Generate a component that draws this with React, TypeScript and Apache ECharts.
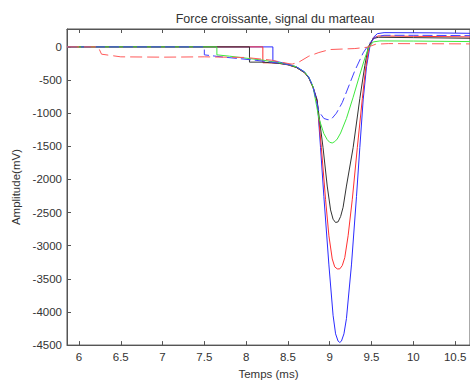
import React, { useEffect, useRef } from "react";
import * as echarts from "echarts";

const titleText = "Force croissante, signal du marteau";
const xName = "Temps (ms)";
const yName = "Amplitude(mV)";
const xTicks = [6, 6.5, 7, 7.5, 8, 8.5, 9, 9.5, 10, 10.5];
const yTicks = [-4500, -4000, -3500, -3000, -2500, -2000, -1500, -1000, -500, 0];

const blueSolid: [number, number][] = [
  [5.857, 0], [8.32, 0], [8.32, -210], [8.4, -230], [8.5, -260], [8.6, -300], [8.7, -380],
  [8.75, -460], [8.8, -600], [8.85, -800], [8.89, -1520], [8.93, -2260], [8.99, -3290],
  [9.04, -4050], [9.07, -4330], [9.1, -4440], [9.12, -4460], [9.14, -4440], [9.17, -4330],
  [9.2, -4100], [9.26, -3290], [9.32, -2260], [9.36, -1520], [9.4, -800], [9.44, -300],
  [9.48, 0], [9.52, 140], [9.57, 200], [9.65, 215], [10.2, 212], [10.68, 205],
];

const redSolid: [number, number][] = [
  [5.857, 0], [8.2, 0], [8.2, -240], [8.3, -240], [8.4, -250], [8.5, -270], [8.6, -310],
  [8.7, -390], [8.75, -470], [8.8, -610], [8.85, -820], [8.9, -1520], [8.95, -2300],
  [8.99, -2850], [9.03, -3200], [9.06, -3320], [9.09, -3350], [9.12, -3350], [9.15, -3300],
  [9.18, -3180], [9.22, -2850], [9.27, -2300], [9.33, -1520], [9.39, -780], [9.43, -320],
  [9.47, 0], [9.52, 130], [9.58, 165], [10.0, 160], [10.68, 150],
];

const blackSolid: [number, number][] = [
  [5.857, 0], [8.04, 0], [8.04, -230], [8.2, -230], [8.3, -240], [8.4, -250], [8.5, -270],
  [8.6, -310], [8.7, -390], [8.75, -470], [8.8, -610], [8.85, -820], [8.92, -1520],
  [8.97, -2100], [9.01, -2460], [9.04, -2600], [9.07, -2650], [9.1, -2640], [9.13, -2560],
  [9.16, -2420], [9.2, -2100], [9.28, -1520], [9.36, -780], [9.42, -280], [9.46, 0],
  [9.52, 125], [9.58, 145], [10.0, 140], [10.68, 130],
];

const greenLine: [number, number][] = [
  [5.857, 0], [7.65, 0], [7.65, -120], [7.8, -140], [8.0, -170], [8.2, -200], [8.4, -240],
  [8.5, -265], [8.6, -300], [8.7, -380], [8.75, -460], [8.8, -600], [8.87, -1075],
  [8.93, -1310], [8.97, -1400], [9.0, -1440], [9.03, -1450], [9.06, -1430], [9.09, -1390],
  [9.13, -1300], [9.2, -1080], [9.28, -760], [9.35, -460], [9.42, -170], [9.47, 0],
  [9.52, 75], [9.6, 90], [10.0, 88], [10.68, 80],
];

const blueDashed: [number, number][] = [
  [5.857, 0], [7.5, 0], [7.5, -120], [7.7, -150], [7.9, -175], [8.1, -200], [8.3, -230],
  [8.5, -265], [8.6, -300], [8.7, -380], [8.75, -460], [8.8, -600], [8.87, -975],
  [8.93, -1080], [8.98, -1100], [9.02, -1090], [9.08, -1000], [9.15, -840], [9.2, -680],
  [9.3, -360], [9.4, -90], [9.48, 60], [9.55, 150], [9.65, 175], [10.0, 175], [10.68, 170],
];

const redDashed: [number, number][] = [
  [5.857, 0], [6.23, 0], [6.27, -110], [6.5, -150], [7.0, -155], [7.5, -150], [8.0, -160],
  [8.3, -200], [8.5, -250], [8.55, -260], [8.63, -230], [8.75, -140], [8.87, -85],
  [9.0, -40], [9.3, -25], [9.45, -5], [9.55, 40], [9.7, 50], [10.68, 45],
];

const FONT = "Liberation Sans";

export default function App() {
  const ref = useRef<HTMLDivElement>(null);
  useEffect(() => {
    if (!ref.current) return;
    const chart = echarts.init(ref.current, undefined, { renderer: "svg" });
    const axisLineStyle = { color: "#555", width: 1 };
    const mk = (name: string, data: [number, number][], color: string, type: any, width = 1) => ({
      name,
      type: "line",
      data,
      showSymbol: false,
      symbol: "none",
      lineStyle: { color, width, type },
      itemStyle: { color },
      z: 2,
    });
    chart.setOption({
      animation: false,
      backgroundColor: "#fff",
      title: {
        text: titleText,
        left: 270,
        top: 7,
        textAlign: "center",
        textStyle: { fontFamily: FONT, fontSize: 12.5, fontWeight: "normal", color: "#333" },
      },
      grid: { left: 67, top: 29, width: 405, height: 323, show: true, borderColor: "#555", borderWidth: 1 },
      xAxis: [
        {
          type: "value",
          min: 5.857,
          max: 10.678,
          name: xName,
          nameLocation: "middle",
          nameGap: 20,
          nameTextStyle: { fontFamily: FONT, fontSize: 11.5, color: "#333" },
          axisLine: { show: true, onZero: false, lineStyle: axisLineStyle },
          axisTick: { show: true, inside: true, length: 4, customValues: xTicks, lineStyle: axisLineStyle },
          axisLabel: { customValues: xTicks, fontFamily: FONT, fontSize: 11.5, color: "#333", margin: 6, formatter: (v: number) => String(v) },
          splitLine: { show: false },
        },
        {
          type: "value",
          position: "top",
          min: 5.857,
          max: 10.678,
          axisLine: { show: true, onZero: false, lineStyle: axisLineStyle },
          axisTick: { show: true, inside: true, length: 4, customValues: xTicks, lineStyle: axisLineStyle },
          axisLabel: { show: false },
          splitLine: { show: false },
        },
      ],
      yAxis: {
        type: "value",
        min: -4500,
        max: 270,
        name: yName,
        nameLocation: "middle",
        nameGap: 42,
        nameTextStyle: { fontFamily: FONT, fontSize: 11.5, color: "#333" },
        axisLine: { show: true, onZero: false, lineStyle: axisLineStyle },
        axisTick: { show: true, inside: true, length: 4, customValues: yTicks, lineStyle: axisLineStyle },
        axisLabel: { customValues: yTicks, fontFamily: FONT, fontSize: 11.5, color: "#333", margin: 5, formatter: (v: number) => String(v) },
        splitLine: { show: false },
      },
      series: [
        mk("blueSolid", blueSolid, "#2b2bff", "solid"),
        mk("redSolid", redSolid, "#ff3030", "solid"),
        mk("blackSolid", blackSolid, "#333333", "solid"),
        mk("green", greenLine, "#3ee83e", "solid"),
        mk("blueDashed", blueDashed, "#4040ff", [10, 4]),
        mk("redDashed", redDashed, "#ff5a5a", [12, 5]),
      ],
    });
    return () => chart.dispose();
  }, []);
  return (
    <div
      ref={ref}
      style={{ position: "absolute", left: 0, top: 0, width: 470, height: 385, background: "#fff" }}
    />
  );
}
